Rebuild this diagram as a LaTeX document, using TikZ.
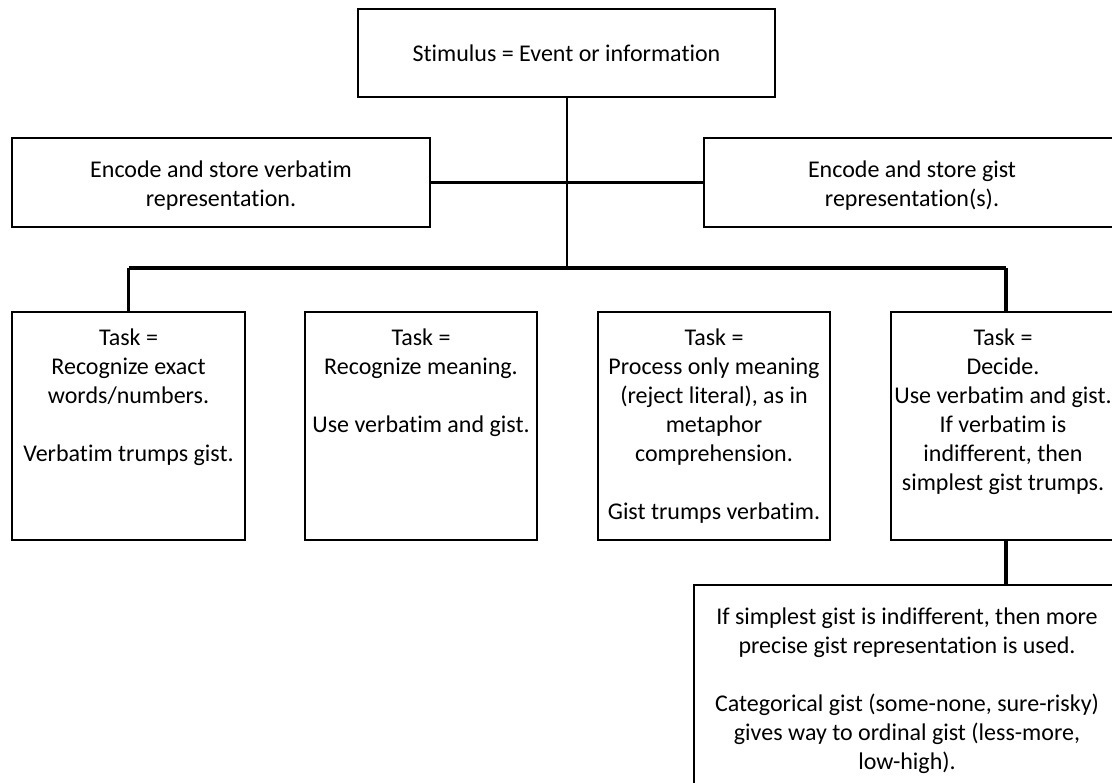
\documentclass[tikz,border=0pt]{standalone}
\usepackage{fontspec}
\setmainfont{Carlito}[Ligatures=NoCommon]
\begin{document}
\begin{tikzpicture}[x=1pt,y=-1pt,
  box/.style={draw, line width=2.5pt, inner sep=0pt, outer sep=0pt},
  txt/.style={align=center, font=\fontsize{24}{29}\selectfont, inner sep=0pt},
  conn/.style={line width=2pt},
  thickconn/.style={line width=3.5pt}]
\useasboundingbox (0,0) rectangle (1112,783);
\clip (0,0) rectangle (1112,783);
% boxes
\node[box, minimum width=417pt, minimum height=88pt] (stim) at (566.5,53) {};
\node[box, minimum width=418pt, minimum height=89pt] (encL) at (221,182.5) {};
\node[box, minimum width=416pt, minimum height=89pt] (encR) at (912,182.5) {};
\node[box, minimum width=233pt, minimum height=228pt] (t1) at (128.5,426) {};
\node[box, minimum width=232pt, minimum height=228pt] (t2) at (421,426) {};
\node[box, minimum width=232pt, minimum height=228pt] (t3) at (714,426) {};
\node[box, minimum width=230pt, minimum height=228pt] (t4) at (1006,426) {};
\node[box, minimum width=426pt, minimum height=240pt] (t5) at (907,705) {};
% texts
\node[txt] (stimtxt) at (stim.center) {Stimulus = Event or information};
\node[txt] (encLtxt) at ([yshift=-3pt]encL.center) {Encode and store verbatim\\representation.};
\node[txt] (encRtxt) at ([yshift=-3pt]encR.center) {Encode and store gist\\representation(s).};
\node[txt, anchor=north] (t1txt) at ([yshift=-17pt]t1.north) {Task =\\Recognize exact\\words/numbers.\\[29pt]Verbatim trumps gist.};
\node[txt, anchor=north] (t2txt) at ([yshift=-17pt]t2.north) {Task =\\Recognize meaning.\\[29pt]Use verbatim and gist.};
\node[txt, anchor=north] (t3txt) at ([yshift=-17pt]t3.north) {Task =\\Process only meaning\\(reject literal), as in\\metaphor\\comprehension.\\[29pt]Gist trumps verbatim.};
\node[txt, anchor=north] (t4txt) at ([yshift=-17pt,xshift=-3pt]t4.north) {Task =\\Decide.\\Use verbatim and gist.\\If verbatim is\\indifferent, then\\simplest gist trumps.};
\node[txt, anchor=north] (t5txt) at ([yshift=-23pt]t5.north) {If simplest gist is indifferent, then more\\precise gist representation is used.\\[29pt]Categorical gist (some-none, sure-risky)\\gives way to ordinal gist (less-more,\\low-high).};
% connectors
\coordinate (busL) at (128.5,268);
\coordinate (busR) at (1006,268);
\coordinate (hub) at (stim.south |- busL);
\draw[conn] (stim.south) -- (hub);
\draw[thickconn] (encL.east) -- (encR.west);
\draw[thickconn] (busL) -- (busR);
\draw[thickconn] (busL) -- (t1.north);
\draw[thickconn] (busR) -- (t4.north);
\draw[thickconn] (t4.south) -- (t4.south |- t5.north);
\end{tikzpicture}
\end{document}
